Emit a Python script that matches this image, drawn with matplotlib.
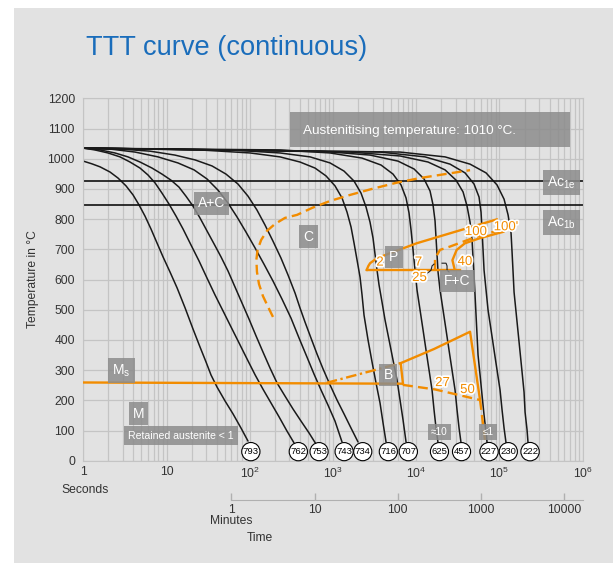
import matplotlib
matplotlib.use("Agg")
import matplotlib.pyplot as plt
import matplotlib.patheffects as pe
from matplotlib.patches import Rectangle
from matplotlib.ticker import NullLocator

plt.rcParams['font.family'] = ['Liberation Sans', 'DejaVu Sans']
plt.rcParams['mathtext.fontset'] = 'custom'
plt.rcParams['mathtext.rm'] = 'Liberation Sans'
plt.rcParams['mathtext.it'] = 'Liberation Sans:italic'
plt.rcParams['mathtext.bf'] = 'Liberation Sans:bold'

ORANGE = '#f28c00'
BG = '#e2e2e2'
GRID = '#c4c4c4'
BOX = '#8c8c8c'
TXT = '#333333'

# cooling curves, time in seconds / temperature in C
t_793 = [1, 1.27, 1.59, 2.09, 2.61, 3.26, 3.96, 4.67, 5.51, 6.51, 7.68, 9.07, 11.0, 13.4,
         16.7, 20.8, 25.2, 29.8, 34.2, 40.4, 50.4, 62.9, 78.5, 95.2]
T_793 = [992, 983, 973, 956, 936, 910, 880, 847, 810, 767, 721, 675, 625, 572,
         506, 436, 377, 327, 284, 244, 198, 155, 108, 65]
t_762 = [1, 1.38, 1.98, 2.76, 3.64, 4.80, 5.99, 7.27, 8.82, 10.7, 13.0, 15.8, 19.7, 24.6,
         30.6, 38.2, 47.7, 59.5, 74.3, 92.7, 116, 144, 180, 225, 280, 340]
T_762 = [1035, 1029, 1019, 1006, 989, 969, 946, 920, 886, 850, 810, 767, 714, 661,
         605, 549, 496, 443, 390, 337, 284, 237, 191, 145, 98, 59]
t_753 = [1, 1.59, 2.40, 3.44, 4.80, 6.69, 8.82, 11.3, 14.1, 17.1, 20.8, 25.2, 30.6, 37.2,
         45.1, 54.8, 66.5, 80.7, 97.9, 119, 144, 175, 213, 265, 331, 413, 515, 625]
T_753 = [1035, 1029, 1019, 1006, 989, 969, 949, 929, 906, 876, 843, 804, 761, 718,
         675, 628, 575, 522, 469, 413, 360, 307, 257, 214, 171, 131, 92, 55]
t_743 = [1, 2.09, 4.18, 7.90, 13.7, 21.4, 30.6, 41.5, 54.8, 70.3, 90.1, 116, 148, 190,
         244, 313, 391, 487, 591, 718, 871, 1057, 1283]
T_743 = [1035, 1032, 1022, 1006, 986, 963, 933, 896, 853, 807, 757, 704, 651, 595,
         535, 472, 406, 343, 287, 234, 184, 131, 62]
t_734 = [1, 2.76, 6.33, 12.6, 22.0, 35.2, 51.8, 72.2, 95.2, 122, 152, 190, 237, 288,
         350, 401, 461, 544, 643, 759, 921, 1117, 1356, 1646, 1998]
T_734 = [1035, 1032, 1025, 1012, 996, 976, 949, 916, 876, 830, 781, 727, 671, 615,
         555, 506, 459, 406, 353, 304, 251, 201, 155, 108, 62]
t_716 = [1, 25.2, 101, 231, 401, 608, 824, 1057, 1283, 1474, 1646, 1788, 1943, 2112,
         2232, 2358, 2634, 2943, 3288, 3672, 3990, 4335]
T_716 = [1035, 1029, 1019, 1006, 989, 969, 943, 910, 870, 823, 774, 721, 665, 608,
         549, 482, 400, 327, 257, 191, 125, 62]
t_707 = [1, 57.9, 231, 530, 921, 1356, 1788, 2171, 2493, 2784, 3025, 3197, 3379, 3572,
         3880, 4217, 4711, 5262, 5878, 6387, 6940, 7540]
T_707 = [1035, 1029, 1019, 1006, 986, 959, 926, 886, 840, 790, 737, 684, 631, 582,
         525, 466, 400, 333, 267, 201, 135, 62]
t_625 = [1, 231, 921, 2232, 3776, 5262, 6567, 7540, 8192, 8659, 9152, 9672, 10220, 11110,
         12070, 13110, 14250, 15480, 16360, 17290, 18270]
T_625 = [1035, 1029, 1019, 1002, 979, 949, 913, 870, 820, 764, 698, 631, 565, 499,
         433, 366, 300, 234, 168, 108, 59]
t_457 = [1, 698, 2784, 6041, 9406, 12410, 14650, 15910, 16820, 17290, 17780, 18270, 19310,
         20990, 22800, 24770, 26920, 29250, 30920, 32680, 34530]
T_457 = [1035, 1025, 1012, 992, 966, 933, 893, 847, 794, 737, 681, 625, 565,
         499, 433, 366, 300, 234, 168, 108, 59]
t_227 = [1, 1601, 6387, 13860, 22180, 30070, 36500, 40770, 44300, 46810, 48130, 49480,
         50860, 52290, 53750, 55260, 58430, 61740, 65260, 68970, 70900]
T_227 = [1035, 1022, 1009, 989, 963, 929, 890, 843, 790, 731, 671, 612,
         549, 482, 416, 350, 284, 217, 151, 95, 59]
t_230 = [1, 3672, 12750, 25470, 38580, 49480, 56810, 60030, 61740, 63460, 65260, 68970,
         72890, 79180, 86050, 93500, 101600, 107400, 113500, 119900]
T_230 = [1035, 1022, 1006, 982, 953, 916, 873, 823, 764, 698, 631, 565,
         499, 433, 366, 300, 234, 168, 108, 59]
t_222 = [1, 6387, 22180, 44300, 68970, 93500, 113500, 126800, 137700, 141600, 145600,
         149700, 158200, 167200, 176700, 186700, 197300, 202900, 214400, 220400]
T_222 = [1035, 1022, 1006, 982, 953, 913, 866, 814, 754, 691, 625,
         558, 492, 426, 360, 294, 227, 161, 102, 59]

# hardness values and where their circles sit on the time axis
hardness = ['793', '762', '753', '743', '734', '716', '707', '625', '457', '227', '230', '222']
hardness_t = [103, 383, 680, 1360, 2277, 4620, 8030, 19000, 35000, 74900, 127700, 233000]

# transformation lines
Ac1e = 925
Ac1b = 847
ms_t = [1, 6900]
ms_T = [259, 255]

c_start_t = [190, 166, 144, 129, 122, 120, 124, 137, 161, 201, 265, 370, 560, 921, 1601,
             2943, 5716, 11110, 22180, 44300]
c_start_T = [476, 509, 545, 585, 625, 665, 698, 731, 761, 784, 804, 814, 837, 860, 880,
             900, 920, 936, 949, 962]

p_base_t = [2540, 33600]
p_base_T = [632, 632]
p_upper_t = [2540, 2660, 2790, 3350, 4840, 10130, 25470, 92700]
p_upper_T = [632, 645, 654, 670, 687, 720, 753, 799]
p_dash_t = [16800, 16800, 19300, 25400, 53300, 101400]
p_dash_T = [632, 670, 698, 709, 742, 764]
p_40_t = [29000, 27200, 30600, 38500, 58400, 111200]
p_40_T = [632, 664, 698, 720, 737, 758]

# little leader marks under the pearlite line
lead1_t = [16360, 15480, 15060, 14250, 13480]
lead1_T = [651, 645, 631, 625, 621]
lead2_t = [20410, 22800, 23440, 23440, 24770]
lead2_T = [654, 654, 645, 631, 625]

b_side_t = [6930, 6500]
b_side_T = [254, 323]
b_upper_t = [6500, 16400, 44300, 58400]
b_upper_T = [323, 370, 427, 201]
b_end_t = [58400, 67000]
b_end_T = [201, 68]
b_lower_t = [6930, 16800, 58400]
b_lower_T = [251, 236, 201]
b_start_t = [840, 6500]
b_start_T = [258, 323]

sec_ticks = [1, 10, 100, 1000, 10000]
x_ticks = [1, 10, 100, 1000, 10000, 100000, 1000000]
x_labels = ['1', '10', '10$^{2}$', '10$^{3}$', '10$^{4}$', '10$^{5}$', '10$^{6}$']

fig = plt.figure(figsize=(6.13, 5.63), dpi=100, facecolor='white')
fig.add_artist(Rectangle((14 / 613, 0), 1 - 14 / 613, 1 - 8 / 563,
                         transform=fig.transFigure, fc=BG, ec='none', zorder=-10))
ax = fig.add_axes([0.1359, 0.1817, 0.8147, 0.6437])
ax.set_facecolor(BG)
ax.set_xscale('log')
ax.set_xlim(1, 1e6)
ax.set_ylim(0, 1200)
ax.set_yticks(range(0, 1201, 100))
ax.set_xticks(x_ticks, labels=x_labels)
ax.grid(True, which='both', axis='x', color=GRID, lw=0.9)
ax.grid(True, which='major', axis='y', color=GRID, lw=0.9)
ax.set_axisbelow(True)
ax.tick_params(which='both', length=0, labelsize=8.7, colors=TXT)
ax.tick_params(axis='x', pad=4)
ax.tick_params(axis='y', pad=6)
for s in ax.spines.values():
    s.set_color(GRID)
ax.set_ylabel('Temperature in °C', fontsize=8.7, color=TXT)
ax.yaxis.set_label_coords(-0.089, 0.5)

curves = [(t_793, T_793), (t_762, T_762), (t_753, T_753), (t_743, T_743),
          (t_734, T_734), (t_716, T_716), (t_707, T_707), (t_625, T_625),
          (t_457, T_457), (t_227, T_227), (t_230, T_230), (t_222, T_222)]
for t, T in curves:
    ax.plot(t, T, color='#1a1a1a', lw=1.1, zorder=2, solid_capstyle='round',
            solid_joinstyle='round')

ax.axhline(Ac1e, color='#111111', lw=1.2, zorder=2)
ax.axhline(Ac1b, color='#111111', lw=1.2, zorder=2)

olw = 1.7
dash = (4.2, 2.2)
ax.plot(ms_t, ms_T, color=ORANGE, lw=olw, zorder=3)
ax.plot(c_start_t, c_start_T, color=ORANGE, lw=olw, dashes=dash, zorder=3)
ax.plot(p_base_t, p_base_T, color=ORANGE, lw=olw, zorder=3)
ax.plot(p_upper_t, p_upper_T, color=ORANGE, lw=olw, zorder=3)
ax.plot(p_dash_t, p_dash_T, color=ORANGE, lw=olw, dashes=dash, zorder=3)
ax.plot(p_40_t, p_40_T, color=ORANGE, lw=olw, zorder=3)
ax.plot(lead1_t, lead1_T, color='#222222', lw=0.8, zorder=3)
ax.plot(lead2_t, lead2_T, color='#222222', lw=0.8, zorder=3)
ax.plot(b_side_t, b_side_T, color=ORANGE, lw=olw, zorder=3)
ax.plot(b_upper_t, b_upper_T, color=ORANGE, lw=olw, zorder=3)
ax.plot(b_end_t, b_end_T, color=ORANGE, lw=olw, dashes=dash, zorder=3)
ax.plot(b_lower_t, b_lower_T, color=ORANGE, lw=olw, dashes=dash, zorder=3)
ax.plot(b_start_t, b_start_T, color=ORANGE, lw=olw, dashes=(4.5, 1.5, 1, 1.5), zorder=3)


def gray_label(x, y, s, size=10, pad=0.3):
    ax.text(x, y, s, color='white', fontsize=size, ha='center', va='center', zorder=5,
            bbox=dict(boxstyle='square,pad=%s' % pad, fc=BOX, ec='none', alpha=0.85))


def num_label(x, y, s):
    ax.text(x, y, s, color=ORANGE, fontsize=9.5, ha='center', va='center', zorder=6,
            path_effects=[pe.withStroke(linewidth=2.5, foreground='white')])


# austenitising banner
ax.add_patch(Rectangle((304, 1039), 704000 - 304, 1155 - 1039, fc=BOX, ec='none',
                       alpha=0.85, zorder=4))
ax.text(436, 1093, 'Austenitising temperature: 1010 °C.', color='white', fontsize=9.7,
        ha='left', va='center', zorder=5)

gray_label(34.7, 852, 'A+C')
gray_label(508, 742, 'C')
gray_label(557000, 921, r'Ac$_\mathrm{1e}$')
gray_label(557000, 789, r'Ac$_\mathrm{1b}$')
gray_label(2.88, 299, r'M$_\mathrm{s}$')
gray_label(4.6, 156, 'M')
gray_label(14.9, 83, 'Retained austenite < 1', size=7.6, pad=0.4)
gray_label(19000, 95, '≈10', size=7.2)
gray_label(72800, 95, '≤1', size=7.2)
gray_label(5400, 674, 'P')
gray_label(31300, 595, 'F+C')
gray_label(4580, 284, 'B')

num_label(3670, 656, '2')
num_label(10650, 656, '7')
num_label(10950, 605, '25')
num_label(38500, 658, '40')
num_label(52300, 757, '100')
num_label(120000, 773, "100'")
num_label(20700, 257, '27')
num_label(41300, 234, '50')

for s, t in zip(hardness, hardness_t):
    ax.text(t, 30, s, fontsize=6.8, ha='center', va='center', zorder=7, color='black',
            bbox=dict(boxstyle='circle,pad=0.12', fc='white', ec='black', lw=0.8))

# minutes axis
sec = ax.secondary_xaxis(-0.108, functions=(lambda s: s / 60.0, lambda m: m * 60.0))
sec.set_xticks(sec_ticks, labels=[str(v) for v in sec_ticks])
sec.xaxis.set_minor_locator(NullLocator())
sec.spines['bottom'].set_color('#b0b0b0')
sec.spines['bottom'].set_bounds(1, 1e6 / 60)
sec.tick_params(direction='in', length=5, width=1, color='#b0b0b0', labelsize=8.7,
                labelcolor=TXT, pad=3)

fig.text(61 / 613, (563 - 490) / 563, 'Seconds', fontsize=8.7, color=TXT, ha='left', va='center')
fig.text(210 / 613, (563 - 521) / 563, 'Minutes', fontsize=8.7, color=TXT, ha='left', va='center')
fig.text(247 / 613, (563 - 538) / 563, 'Time', fontsize=8.7, color=TXT, ha='left', va='center')
fig.text(86 / 613, (563 - 55) / 563, 'TTT curve (continuous)', fontsize=19.6,
         color='#1a6dbb', ha='left', va='baseline')

fig.savefig('out.png', dpi=100)
